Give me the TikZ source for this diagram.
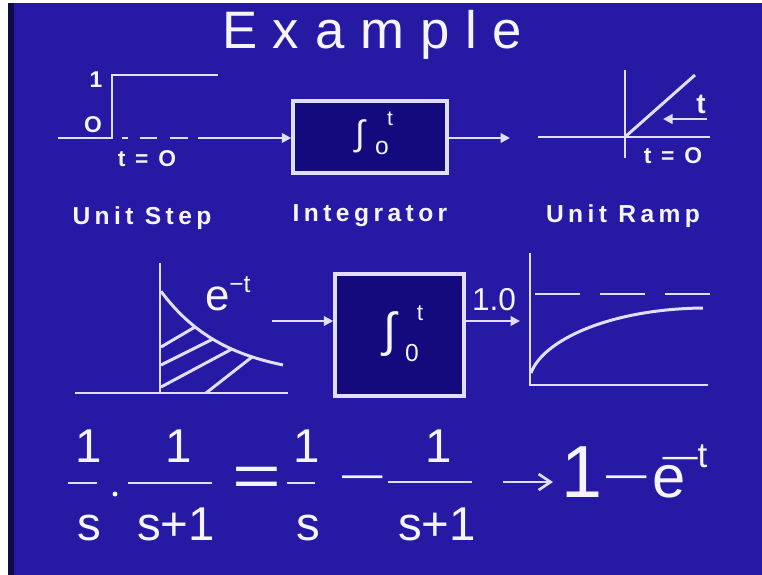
\documentclass[tikz,border=0pt]{standalone}
\usepackage{fontspec}
\setmainfont{Liberation Sans}
\usepackage{graphicx}
\usetikzlibrary{positioning,arrows.meta}
\definecolor{slide}{RGB}{38,26,165}
\definecolor{slidedark}{RGB}{16,10,70}
\definecolor{boxfill}{RGB}{18,10,125}
\definecolor{chalk}{RGB}{226,222,255}
\definecolor{ink}{RGB}{246,244,255}

\begin{document}
\begin{tikzpicture}[x=0.02cm,y=-0.02cm,
  >={Triangle[length=1.9mm,width=1.9mm]},
  wire/.style={draw=chalk,line width=1.7pt},
  intbox/.style={draw=chalk,line width=2pt,fill=boxfill,inner sep=0pt},
  txt/.style={text=ink,inner sep=0pt,anchor=base},
  heading/.style={txt,font=\fontsize{30}{36}\selectfont\addfontfeatures{LetterSpace=30}},
  caption/.style={txt,font=\bfseries\fontsize{14}{17}\selectfont\addfontfeatures{LetterSpace=18}},
  tick/.style={txt,font=\bfseries\fontsize{13}{15}\selectfont\addfontfeatures{LetterSpace=15}},
  lim/.style={txt,anchor=center},
  eqn/.style={txt,font=\fontsize{27}{32}\selectfont},
  dashsign/.style={txt,anchor=center,font=\fontsize{23}{26}\selectfont},
  eqarrow/.style={draw=chalk,line width=1.5pt,-{Straight Barb[length=2.4mm,width=3.2mm]}}]
 \useasboundingbox (0,0) rectangle (762,575);
 % slide background
 \fill[white] (0,0) rectangle (762,575);
 \fill[slidedark] (8,3) rectangle (762,575);
 \fill[slide] (14,3) rectangle (762,575);
 \node[heading] (title) at (372,48) {Example};

 % unit step -> integrator -> unit ramp
 \node[intbox,minimum width=3.08cm,minimum height=1.44cm] (int1) at (370,137) {};
 \node[lim,font=\fontsize{20}{23}\selectfont] (int1s) at (360,136) {∫};
 \node[lim,font=\fontsize{14}{16}\selectfont] (int1lo) at (382,148) {o};
 \node[lim,font=\fontsize{12}{14}\selectfont] (int1hi) at (390,119) {t};

 \coordinate (st0) at (58,138);
 \coordinate (st1) at (112,138);
 \coordinate (st2) at (112,75);
 \coordinate (st3) at (218,75);
 \coordinate (dsh0) at (122,138);
 \coordinate (dsh1) at (188,138);
 \draw[wire] (st0) -- (st1) -- (st2) -- (st3);
 \draw[wire,dash pattern=on 0.12cm off 0.24cm on 0.34cm off 0.26cm on 0.36cm] (dsh0) -- (dsh1);
 \node[tick] (one) at (96,87) {1};
 \node[tick] (zero) at (93,132) {O};
 \node[tick] (tzero1) at (147,166) {t = O};

 \coordinate (in1) at (198,138);
 \coordinate (out1) at (510,138);
 \draw[wire,->] (in1) -- (in1 -| int1.west);
 \draw[wire,->] (int1.east |- out1) -- (out1);

 \coordinate (rp0) at (538,137);
 \coordinate (rp1) at (710,137);
 \coordinate (rpv0) at (625,70);
 \coordinate (rpv1) at (625,158);
 \coordinate (rpt) at (695,75);
 \draw[wire] (rp0) -- (rp1);
 \draw[wire] (rpv0) -- (rpv1);
 \draw[wire] (rpv0 |- rp0) -- (rpt);
 \coordinate (ta0) at (707,119);
 \coordinate (ta1) at (663,119);
 \draw[wire,->] (ta0) -- (ta1);
 \node[txt,font=\bfseries\fontsize{16}{18}\selectfont] (tramp) at (701,113) {t};
 \node[tick] (tzero2) at (673,163) {t = O};

 \node[caption] (cstep) at (142,224) {Unit Step};
 \node[caption] (cint) at (370,221) {Integrator};
 \node[caption] (cramp) at (623,222) {Unit Ramp};

 % e^-t -> integrator -> 1-e^-t
 \draw[wire] (75,393) -- (288,393);
 \draw[wire] (160,263) -- (160,393);
 \draw[wire] plot[domain=161:283,samples=40] (\x,{378-88*exp(-0.0155*(\x-160))});
 \foreach \a/\b/\c/\d in {161/347/195/327,161/365/213/339,161/387/232/349,206/393/252/357}
   \draw[wire] (\a,\b) -- (\c,\d);
 \node[txt,font=\fontsize{25}{30}\selectfont] (ee) at (218,310) {e};
 \node[txt,anchor=base west,font=\fontsize{14}{16}\selectfont] (eexp) at (229,292) {−t};

 \node[intbox,minimum width=2.58cm,minimum height=2.44cm] (int2) at (399.5,335) {};
 \node[lim,font=\fontsize{27}{30}\selectfont] (int2s) at (390,334) {∫};
 \node[lim,font=\fontsize{14}{16}\selectfont] (int2lo) at (412,353) {0};
 \node[lim,font=\fontsize{13}{15}\selectfont] (int2hi) at (420,313) {t};

 \coordinate (in2) at (272,321);
 \coordinate (out2) at (520,321);
 \draw[wire,->] (in2) -- (in2 -| int2.west);
 \draw[wire,->] (int2.east |- out2) -- (out2);
 \node[txt,font=\fontsize{18}{20}\selectfont] (lvl) at (494,310) {1.0};

 \draw[wire] (530,253) -- (530,385) -- (708,385);
 \draw[wire,dash pattern=on 0.9cm off 0.4cm] (535,294) -- (710,294);
 \draw[wire] (531,373) .. controls (543,340) and (610,309) .. (703,308);

 % transform
 \node[eqn] (n1) at (89,462) {1};
 \node[eqn] (d1) at (89,540) {s};
 \draw[wire] (68,483) -- (97,483);
 \node[fill=ink,circle,inner sep=0pt,minimum size=0.1cm] (dot) at (115,494) {};
 \node[eqn] (n2) at (179,462) {1};
 \node[eqn] (d2) at (176,540) {s+1};
 \draw[wire] (128,483) -- (212,483);
 \node[txt,anchor=center,font=\fontsize{34}{40}\selectfont] (eq) at (257,482) {\scalebox{1.4}[1]{=}};
 \node[eqn] (n3) at (307,462) {1};
 \node[eqn] (d3) at (308,540) {s};
 \draw[wire] (287,483) -- (315,483);
 \node[dashsign] (m1) at (363,482) {—};
 \node[eqn] (n4) at (439,462) {1};
 \node[eqn] (d4) at (437,540) {s+1};
 \draw[wire] (388,482) -- (472,482);
 \coordinate (ar0) at (503,482);
 \coordinate (ar1) at (553,482);
 \draw[eqarrow] (ar0) -- (ar1);
 \node[txt,font=\fontsize{42}{48}\selectfont] (r1) at (582,497) {1};
 \node[dashsign] (m2) at (627,482) {—};
 \node[txt,anchor=base west,font=\fontsize{34}{40}\selectfont] (re) at (652,497)
   {e\kern-0.46cm\raisebox{0.6cm}{\fontsize{20}{24}\selectfont —t}};
\end{tikzpicture}
\end{document}
